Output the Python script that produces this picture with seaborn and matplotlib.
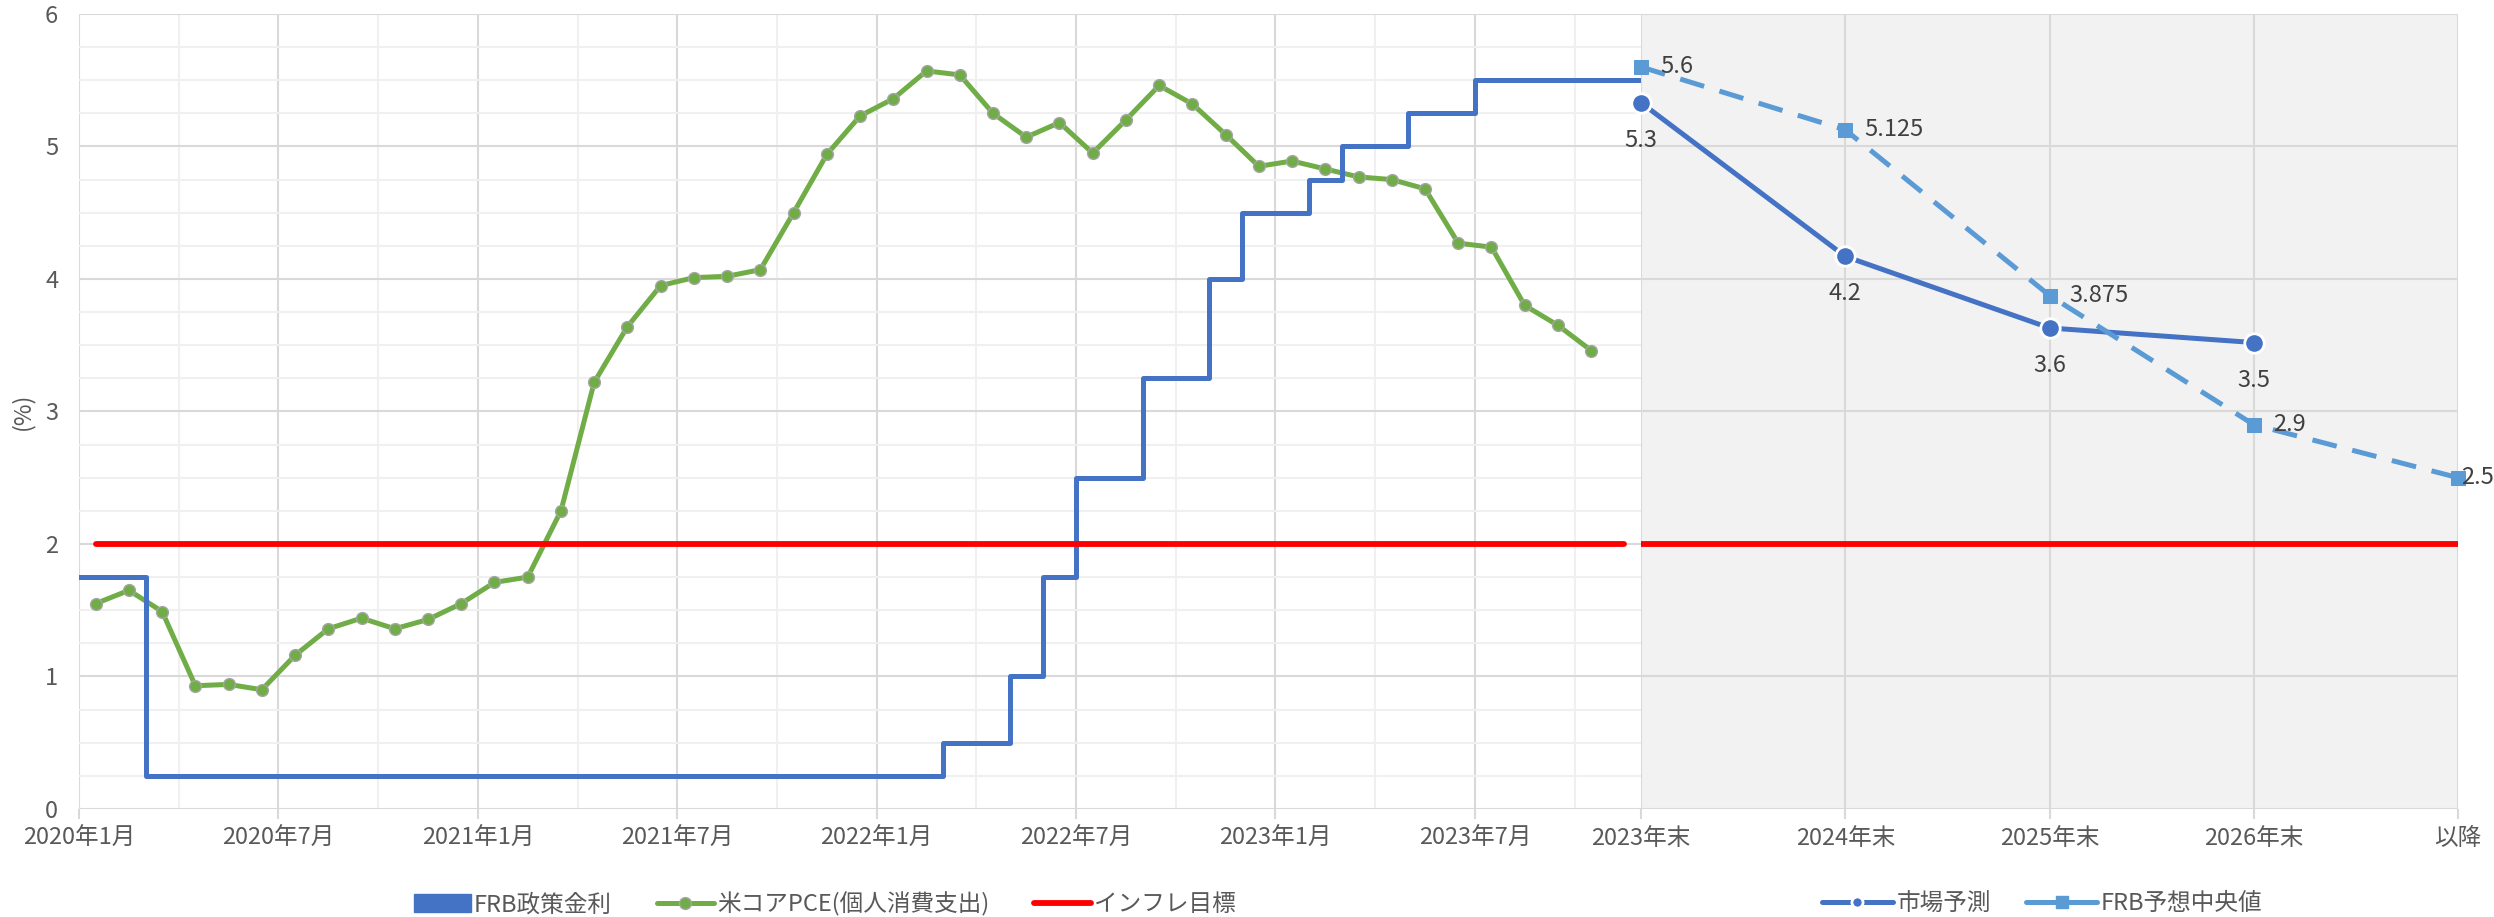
import numpy as np
import pandas as pd
import matplotlib
matplotlib.use("Agg")
import matplotlib.pyplot as plt
import seaborn as sns
from matplotlib import font_manager
from matplotlib.font_manager import FontProperties
from matplotlib.lines import Line2D
from matplotlib.patches import Patch
from matplotlib.ticker import FixedLocator, MultipleLocator

# ---------------- data ----------------
month_tick_labels = ["2020年1月", "2020年7月", "2021年1月", "2021年7月",
                     "2022年1月", "2022年7月", "2023年1月", "2023年7月"]
n_months = 47  # Jan 2020 .. end of 2023 (month index)

# FRB policy rate (upper bound): month index of change and value from then
rate_change_month = [0, 2, 26, 28, 29, 30, 32, 34, 35, 37, 38, 40, 42, 47]
rate_value = [1.75, 0.25, 0.5, 1.0, 1.75, 2.5, 3.25, 4.0, 4.5, 4.75, 5.0, 5.25, 5.5, 5.5]

# US core PCE, monthly from Jan 2020
pce_core = [1.55, 1.65, 1.49, 0.93, 0.94, 0.90, 1.16, 1.36, 1.44, 1.36,
            1.43, 1.55, 1.71, 1.75, 2.25, 3.22, 3.64, 3.95, 4.01, 4.02,
            4.07, 4.50, 4.94, 5.23, 5.36, 5.57, 5.54, 5.25, 5.07, 5.18,
            4.95, 5.20, 5.46, 5.32, 5.09, 4.85, 4.89, 4.83, 4.77, 4.75,
            4.68, 4.27, 4.24, 3.80, 3.65, 3.46]

inflation_target = 2.0

forecast_labels = ["2023年末", "2024年末", "2025年末", "2026年末", "以降"]
market_forecast = [5.33, 4.17, 3.63, 3.52]
frb_median = [5.6, 5.125, 3.875, 2.9, 2.5]
frb_median_text = ["5.6", "5.125", "3.875", "2.9", "2.5"]

# ---------------- style ----------------
sns.set_theme(style="white")

def _has(fam):
    try:
        font_manager.fontManager.findfont(FontProperties(family=fam),
                                          fallback_to_default=False)
        return True
    except Exception:
        return False

families = []
if _has("Liberation Sans Narrow"):
    families.append("Liberation Sans Narrow")
    FS = 17.5
else:
    FS = 17
families += ["Noto Sans CJK JP", "DejaVu Sans"]
plt.rcParams["font.family"] = families

BLUE = "#4472C4"
GREEN = "#70AD47"
RED = "#FF0000"
LBLUE = "#5B9BD5"
GRID = "#D9D9D9"
GRID_MINOR = "#F0F0F0"
TXT = "#595959"
LW = 3.6

fig = plt.figure(figsize=(24.94, 9.17), dpi=100)
ax1 = fig.add_axes([0.0317, 0.1178, 0.6263, 0.8670])
ax2 = fig.add_axes([0.6580, 0.1178, 0.3276, 0.8670], sharey=ax1)

# ---------------- left panel ----------------
df_rate = pd.DataFrame({"m": rate_change_month, "v": rate_value})
sns.lineplot(data=df_rate, x="m", y="v", ax=ax1, color=BLUE, lw=LW,
             drawstyle="steps-post", estimator=None, zorder=4)

df_pce = pd.DataFrame({"m": np.arange(len(pce_core)) + 0.5, "v": pce_core})
sns.lineplot(data=df_pce, x="m", y="v", ax=ax1, color=GREEN, lw=LW,
             marker="o", markersize=8.5, markerfacecolor=GREEN,
             markeredgecolor="#A5A5A5", markeredgewidth=1.0,
             estimator=None, zorder=3)

df_tgt = pd.DataFrame({"m": [0.5, n_months - 0.5],
                       "v": [inflation_target, inflation_target]})
sns.lineplot(data=df_tgt, x="m", y="v", ax=ax1, color=RED, lw=4.2,
             solid_capstyle="round", estimator=None, zorder=5)

ax1.set_xlim(0, n_months)
ax1.set_ylim(0, 6)
ax1.xaxis.set_major_locator(FixedLocator(np.arange(0, 43, 6)))
ax1.set_xticklabels(month_tick_labels)
ax1.xaxis.set_minor_locator(FixedLocator(np.arange(3, 46, 6)))
ax1.yaxis.set_major_locator(MultipleLocator(1))
ax1.yaxis.set_minor_locator(MultipleLocator(0.25))
ax1.grid(which="minor", color=GRID_MINOR, lw=1.5, zorder=0)
ax1.grid(which="major", color=GRID, lw=1.5, zorder=0)
ax1.set_axisbelow(True)
for s in ax1.spines.values():
    s.set_visible(False)
ax1.tick_params(axis="x", which="major", length=7, width=1.5, color=GRID,
                labelsize=FS, labelcolor=TXT, pad=6, bottom=True)
ax1.tick_params(axis="x", which="minor", length=0)
ax1.tick_params(axis="y", which="both", length=0, labelsize=FS,
                labelcolor=TXT, pad=15)
ax1.set_xlabel("")
ax1.set_ylabel("(%)", fontsize=FS, color=TXT, labelpad=8)

h1 = [Patch(facecolor=BLUE, edgecolor=BLUE),
      Line2D([], [], color=GREEN, lw=LW, marker="o", markersize=8.5,
             markerfacecolor=GREEN, markeredgecolor="#A5A5A5"),
      Line2D([], [], color=RED, lw=4.2, solid_capstyle="round")]
ax1.legend(h1, ["FRB政策金利", "米コアPCE(個人消費支出)", "インフレ目標"],
           loc="center", bbox_to_anchor=(0.4776, -0.1195), ncol=3,
           frameon=False, fontsize=FS, labelcolor=TXT, handlelength=2.4,
           handleheight=0.75, columnspacing=1.9, handletextpad=0.15)

# ---------------- right panel ----------------
ax2.set_facecolor("#F2F2F2")
df_tgt2 = pd.DataFrame({"c": [0, len(forecast_labels) - 1],
                        "v": [inflation_target, inflation_target]})
sns.lineplot(data=df_tgt2, x="c", y="v", ax=ax2, color=RED, lw=4.2,
             estimator=None, zorder=3)

df_mkt = pd.DataFrame({"c": np.arange(len(market_forecast)), "v": market_forecast})
sns.lineplot(data=df_mkt, x="c", y="v", ax=ax2, color=BLUE, lw=LW,
             marker="o", markersize=14, markerfacecolor=BLUE,
             markeredgecolor="white", markeredgewidth=2,
             estimator=None, zorder=4, clip_on=False)

df_frb = pd.DataFrame({"c": np.arange(len(frb_median)), "v": frb_median})
sns.lineplot(data=df_frb, x="c", y="v", ax=ax2, color=LBLUE, lw=LW,
             marker="s", markersize=10, markerfacecolor=LBLUE,
             markeredgecolor=LBLUE, estimator=None, zorder=5, clip_on=False)
ax2.lines[-1].set_linestyle((0, (5, 3.2)))

for i, v in enumerate(market_forecast):
    ax2.annotate(f"{v:.1f}", (i, v), xytext=(0, -27), textcoords="offset points",
                 ha="center", va="center", fontsize=FS, color="#404040",
                 annotation_clip=False, zorder=6)
for i, (v, t) in enumerate(zip(frb_median, frb_median_text)):
    dx = 14 if i < len(frb_median) - 1 else 2
    ax2.annotate(t, (i, v), xytext=(dx, 0), textcoords="offset points",
                 ha="left", va="center", fontsize=FS, color="#404040",
                 annotation_clip=False, zorder=6)

ax2.set_xlim(0, len(forecast_labels) - 1)
ax2.set_xticks(np.arange(len(forecast_labels)))
ax2.set_xticklabels(forecast_labels)
ax2.grid(which="major", color=GRID, lw=1.5, zorder=0)
ax2.set_axisbelow(True)
for s in ax2.spines.values():
    s.set_visible(False)
ax2.tick_params(axis="x", length=7, width=1.5, color=GRID, labelsize=FS,
                labelcolor=TXT, pad=6, bottom=True)
ax2.tick_params(axis="y", length=0, labelleft=False)
ax2.set_xlabel("")
ax2.set_ylabel("")

h2 = [Line2D([], [], color=BLUE, lw=LW, marker="o", markersize=8,
             markerfacecolor=BLUE, markeredgecolor="white", markeredgewidth=2),
      Line2D([], [], color=LBLUE, lw=LW, marker="s", markersize=9,
             markerfacecolor=LBLUE, markeredgecolor=LBLUE)]
ax2.legend(h2, ["市場予測", "FRB予想中央値"], loc="center",
           bbox_to_anchor=(0.491, -0.1195), ncol=2, frameon=False,
           fontsize=FS, labelcolor=TXT, handlelength=3.0,
           columnspacing=1.5, handletextpad=0.15)

fig.savefig("out.png", dpi=100)
